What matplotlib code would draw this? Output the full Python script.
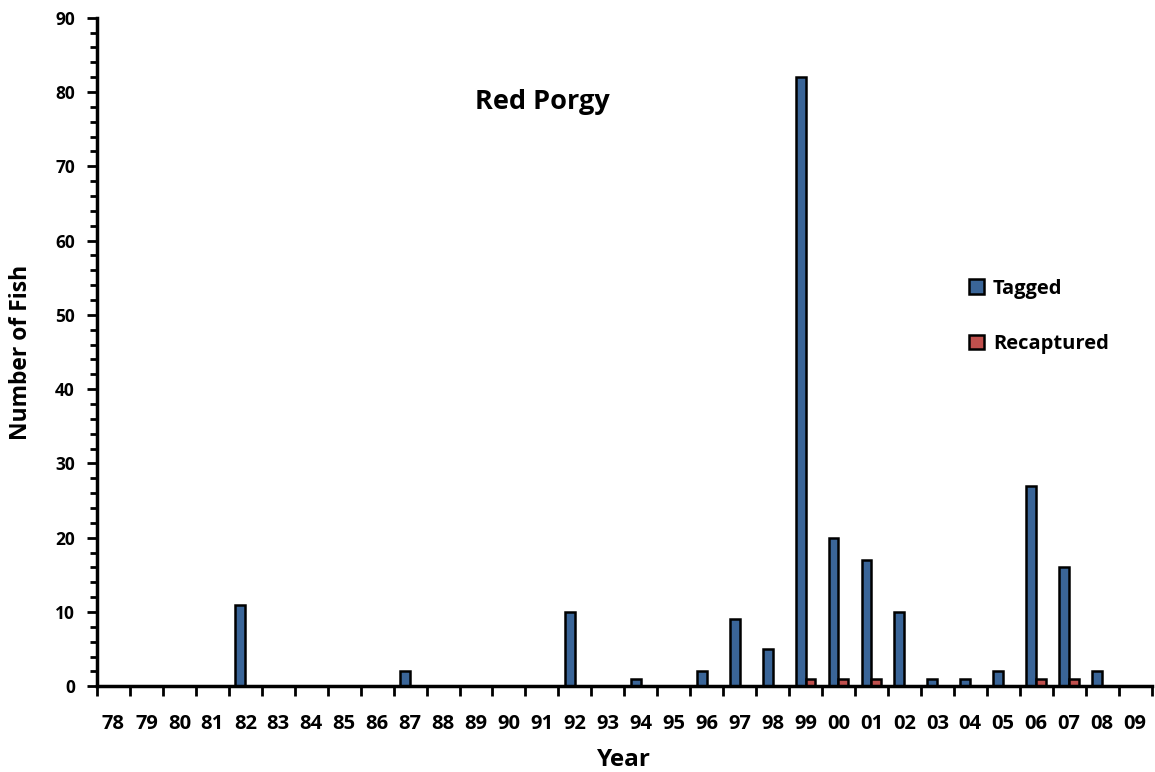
import numpy as np
import matplotlib.pyplot as plt
from matplotlib.ticker import MultipleLocator, FixedLocator

plt.rcParams['font.family'] = ['Open Sans', 'DejaVu Sans']
plt.rcParams['font.weight'] = 'bold'

# ---------- data ----------
years = ["78", "79", "80", "81", "82", "83", "84", "85", "86", "87", "88",
         "89", "90", "91", "92", "93", "94", "95", "96", "97", "98", "99",
         "00", "01", "02", "03", "04", "05", "06", "07", "08", "09"]
tagged = [0, 0, 0, 0, 11, 0, 0, 0, 0, 2, 0,
          0, 0, 0, 10, 0, 1, 0, 2, 9, 5, 82,
          20, 17, 10, 1, 1, 2, 27, 16, 2, 0]
recaptured = [0, 0, 0, 0, 0, 0, 0, 0, 0, 0, 0,
              0, 0, 0, 0, 0, 0, 0, 0, 0, 0, 1,
              1, 1, 0, 0, 0, 0, 1, 1, 0, 0]

blue = "#3A6598"
red = "#C0504D"

# ---------- plot ----------
fig = plt.figure(figsize=(11.55, 7.72), dpi=100)
ax = fig.add_axes([0.084, 0.111, 0.913, 0.866])

x = np.arange(len(years))
w = 0.3
ax.bar(x - w/2, tagged, w, color=blue, edgecolor="black", linewidth=1.8, label="Tagged")
ax.bar(x + w/2, recaptured, w, color=red, edgecolor="black", linewidth=1.8, label="Recaptured")

ax.set_xlim(-0.5, len(years) - 0.5)
ax.set_ylim(0, 90)

for s in ["top", "right"]:
    ax.spines[s].set_visible(False)
for s in ["left", "bottom"]:
    ax.spines[s].set_linewidth(2.5)

# x: labels at centres, tick marks at category boundaries
ax.set_xticks(x)
ax.set_xticklabels(years, fontsize=14.5, fontweight="bold")
ax.tick_params(axis="x", which="major", length=0, pad=20)
ax.xaxis.set_minor_locator(FixedLocator(np.arange(-0.5, len(years), 1)))
ax.tick_params(axis="x", which="minor", length=7, width=2, direction="out")

# y
ax.yaxis.set_major_locator(MultipleLocator(10))
ax.yaxis.set_minor_locator(MultipleLocator(2))
ax.tick_params(axis="y", which="major", length=7, width=2, labelsize=12.5, pad=9)
ax.tick_params(axis="y", which="minor", length=5, width=2)
for lab in ax.get_yticklabels():
    lab.set_fontweight("bold")

ax.set_xlabel("Year", fontsize=17.5, fontweight="bold", labelpad=10)
ax.set_ylabel("Number of Fish", fontsize=16.5, fontweight="bold", labelpad=16)

ax.text(0.47, 0.868, "Red Porgy", transform=fig.transFigure, ha="center",
        va="center", fontsize=19.5, fontweight="bold")

ax.legend(loc="center left", bbox_to_anchor=(0.823, 0.59), bbox_transform=fig.transFigure,
          frameon=False, prop={"weight": "bold", "size": 14.5}, labelspacing=1.75,
          handlelength=0.75, handleheight=0.75, handletextpad=0.45)

fig.savefig("out.png", dpi=100)
